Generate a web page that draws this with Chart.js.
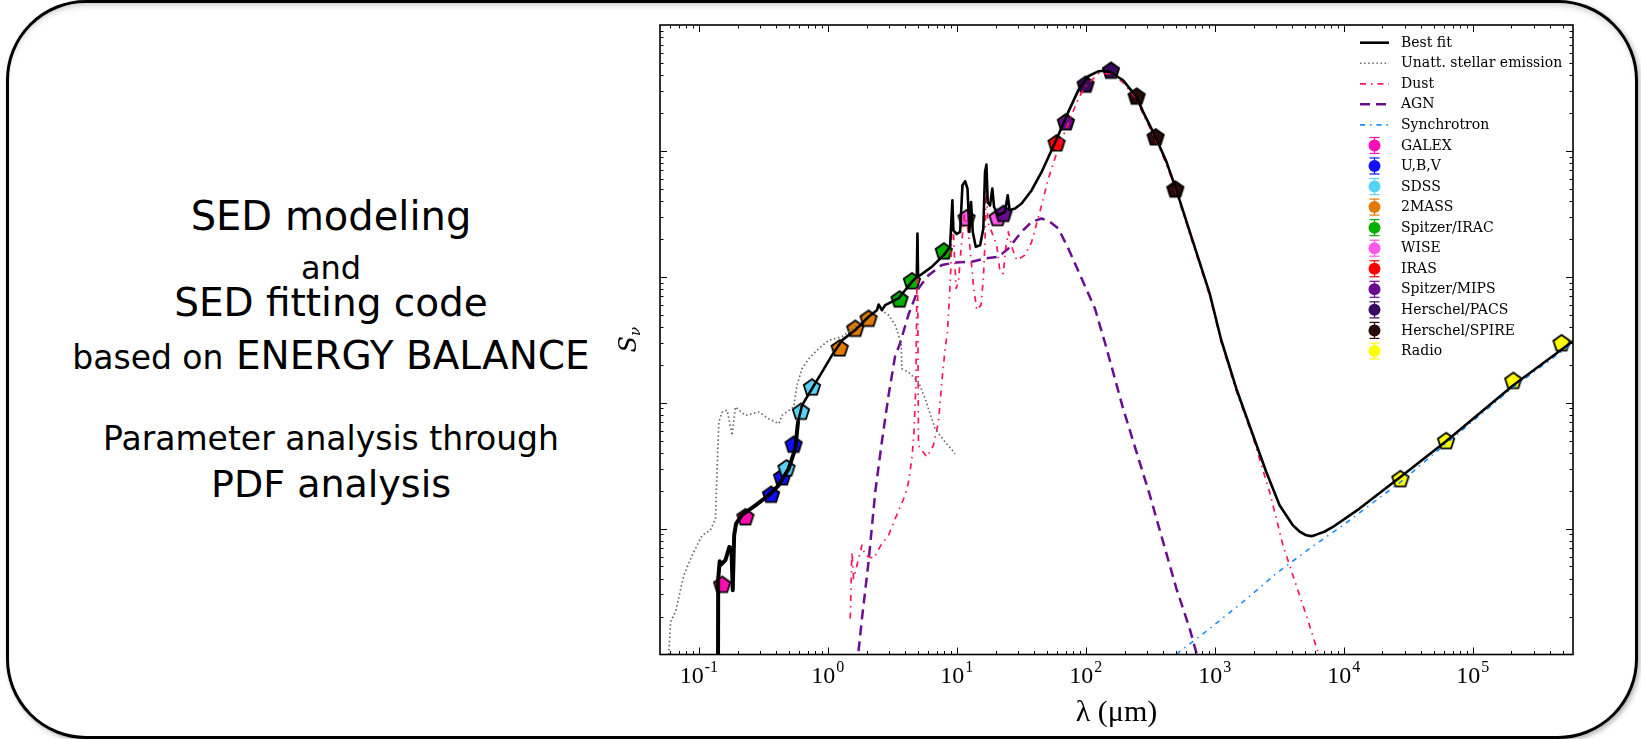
<!DOCTYPE html>
<html>
<head>
<meta charset="utf-8">
<script src="https://cdn.jsdelivr.net/npm/chart.js@4.4.1/dist/chart.umd.min.js"></script>
<style>
  html, body { margin: 0; padding: 0; background: #fff; }
  body { width: 1641px; height: 739px; position: relative; overflow: hidden; font-family: "DejaVu Sans", Verdana, sans-serif; }
  .frame { position: absolute; left: 6px; top: 0; width: 1632px; height: 739px; box-sizing: border-box;
           border: 3px solid #000; border-radius: 80px;
           box-shadow: inset 0 5px 6px -3px rgba(0,0,0,0.22), 2px 2px 5px rgba(0,0,0,0.3); }
  .blurb { position: absolute; left: 0; width: 662px; text-align: center; color: #000; white-space: nowrap; }
  #sed { position: absolute; left: 0; top: 0; }
</style>
</head>
<body>
<div class="frame"></div>

<div class="blurb" style="top:196px;font-size:40px;line-height:40px">SED modeling</div>
<div class="blurb" style="top:252px;font-size:32px;line-height:32px">and</div>
<div class="blurb" style="top:283px;font-size:39px;line-height:39px">SED fitting code</div>
<div class="blurb" style="top:336px;font-size:39px;line-height:39px"><span style="font-size:33px">based on</span> ENERGY BALANCE</div>
<div class="blurb" style="top:422px;font-size:33px;line-height:33px">Parameter analysis through</div>
<div class="blurb" style="top:465px;font-size:38px;line-height:38px">PDF analysis</div>

<canvas id="sed" width="1641" height="739"></canvas>

<script>
// wavelength in micron, flux density in arbitrary units (log axes)
const bestFitLam = [0.1406, 0.1413, 0.1452, 0.1472, 0.1607, 0.1726, 0.1791, 0.1832, 0.1879, 0.1945,
  0.2163, 0.2748, 0.3483, 0.4159, 0.4977, 0.5598, 0.5875, 0.6310, 0.7534, 0.9016,
  1.076, 1.288, 1.633, 2.070, 2.404, 2.477, 2.630, 2.786, 3.532, 4.487,
  4.898, 4.955, 5.012, 6.397, 7.925, 8.872, 9.247, 9.419, 10.0, 10.62,
  11.07, 11.61, 12.11, 12.53, 12.91, 13.30, 14.03, 15.17, 16.07, 16.56,
  16.98, 17.38, 18.11, 18.88, 19.45, 21.04, 23.66, 24.83, 25.70, 28.31,
  31.84, 38.11, 45.50, 54.33, 61.24, 73.28, 87.50, 104.5, 125.0, 139.0,
  153.8, 195.0, 219.8, 247.7, 278.6, 347.5, 422.7, 504.7, 679.2, 914.1,
  1122, 1472, 1982, 2512, 3184, 4036, 4571, 5129, 5623, 6124,
  7079, 8241, 13270, 27540, 62230, 206500, 576800, 631000];
const bestFitFlux = [0.316, 3.98, 5.50, 5.12, 5.61, 7.15, 6.93, 3.24, 8.85, 10.96,
  12.88, 15.31, 18.41, 22.08, 29.92, 43.15, 70.31, 95.28, 129.1, 175.0,
  237.7, 312.6, 377.6, 481.9, 543.3, 602.6, 543.3, 595.7, 673.0, 912.0,
  1000, 2208, 1000, 1199, 1486, 1730, 4055, 2333, 2188, 2275,
  5346, 5741, 5023, 2275, 3917, 2275, 1730, 1782, 2421, 6808,
  7780, 3917, 3681, 5023, 3597, 3083, 3281, 4446, 3381, 3483,
  3819, 4875, 6808, 10120, 13300, 20420, 30270, 39170, 42850, 43300,
  42360, 36390, 31260, 26850, 20420, 12910, 8185, 4875, 1897, 738.2,
  316.2, 129.1, 55.08, 28.18, 15.31, 10.62, 9.44, 8.851, 8.71, 8.954,
  9.44, 10.30, 14.42, 25.70, 49.32, 137.4, 299.2, 320.6];

const stellarLam = [0.0570, 0.05861, 0.06039, 0.06592, 0.07656, 0.08872, 0.1062, 0.1230, 0.1346, 0.1387,
  0.1429, 0.1517, 0.1660, 0.1811, 0.1923, 0.2296, 0.2917, 0.3483, 0.4159, 0.4416,
  0.5433, 0.5768, 0.6310, 0.7112, 0.8492, 1.014, 1.288, 1.633, 2.070, 2.477,
  2.958, 3.334, 3.707, 3.750, 4.227, 5.047, 5.689, 6.792, 8.128, 9.705];
const stellarFlux = [0.80, 1.050, 1.816, 2.183, 4.266, 6.138, 8.851, 9.705, 11.99, 29.92,
  70.31, 84.33, 87.10, 55.08, 92.47, 79.25, 84.33, 74.64, 68.08, 79.25,
  92.47, 137.4, 186.2, 223.4, 268.5, 312.6, 334.2, 400.9, 481.9, 561.0,
  496.6, 413.0, 295.8, 186.2, 175.0, 145.9, 107.6, 62.23, 48.75, 39.36];

const dustLam = [1.493, 1.538, 1.585, 1.683, 1.841, 1.950, 2.265, 2.624, 2.958, 3.334,
  3.639, 3.981, 4.227, 4.487, 4.645, 4.819, 4.955, 5.047, 5.358, 5.861,
  6.592, 7.211, 7.745, 8.128, 8.472, 8.730, 8.995, 9.247, 9.528, 9.886,
  10.30, 10.81, 11.46, 12.16, 12.68, 13.46, 14.29, 15.42, 16.07, 16.56,
  16.87, 17.38, 18.66, 20.42, 21.63, 22.96, 23.93, 25.12, 26.98, 29.17,
  33.81, 38.11, 45.50, 51.29, 57.68, 63.10, 73.28, 87.50, 98.63, 125.0,
  158.5, 195.0, 219.8, 247.7, 278.6, 347.5, 422.7, 504.7, 679.2, 914.1,
  1122, 1472, 1982, 2667, 3381, 4285, 5129, 6310, 7079];
const dustFlux = [1.932, 6.531, 4.009, 5.117, 7.379, 6.138, 5.781, 7.603, 8.851, 11.99,
  14.86, 18.41, 23.44, 35.97, 55.08, 137.4, 2208, 45.81, 41.88, 37.07,
  45.81, 70.31, 164.8, 268.5, 365.6, 633.9, 1164, 3936, 1679, 807.2,
  912.0, 1679, 3083, 2421, 1679, 859.0, 543.3, 595.7, 970.5, 1897,
  5675, 2735, 2275, 1782, 1096, 1062, 1679, 2275, 1679, 1355,
  1486, 1897, 3707, 6026, 8690, 11430, 16480, 26000, 32210, 41000,
  41000, 34930, 30010, 25780, 19600, 12390, 7858, 4680, 1821, 708.7,
  303.6, 123.9, 52.88, 19.54, 7.379, 3.548, 2.051, 1.050, 0.708];

const agnLam = [1.679, 1.841, 2.070, 2.333, 2.624, 2.958, 3.334, 3.598, 4.227, 5.047,
  6.039, 7.656, 9.705, 13.06, 16.56, 21.04, 25.12, 31.84, 38.11, 45.50,
  52.84, 61.24, 73.28, 92.90, 117.8, 140.6, 163.3, 195.0, 247.7, 314.1,
  398.1, 504.7, 639.7, 729.5, 776.2];
const agnFlux = [0.794, 1.932, 5.433, 19.54, 48.75, 114.3, 237.7, 287.1, 501.2, 807.2,
  1030, 1239, 1300, 1315, 1400, 1442, 1679, 2275, 2735, 2904,
  2735, 2421, 1679, 970.5, 561.0, 302.0, 173.8, 89.54, 40.55, 18.41,
  7.834, 3.342, 1.607, 0.989, 0.794];

const synchLam = [400, 501.2, 914.1, 1656, 3000, 5433, 9863, 27540, 62230, 206500, 576800, 631000];
const synchFlux = [0.835, 1.0, 1.607, 2.618, 4.395, 6.934, 10.62, 23.44, 47.32, 133.0, 288.4, 309.0];

// photometry per instrument
const bandNames = ['GALEX', 'U,B,V', 'SDSS', '2MASS', 'Spitzer/IRAC', 'WISE', 'IRAS',
  'Spitzer/MIPS', 'Herschel/PACS', 'Herschel/SPIRE', 'Radio'];
const galexLam = [0.1517, 0.2296], galexFlux = [3.60, 12.4];
const ubvLam = [0.363, 0.442, 0.543], ubvFlux = [18.7, 25.7, 46.7];
const sdssLam = [0.478, 0.619, 0.753], sdssFlux = [30.3, 85.3, 133];
const tmassLam = [1.236, 1.633, 2.07], tmassFlux = [272, 389, 467];
const iracLam = [3.60, 4.49, 7.93], iracFlux = [665, 929, 1600];
const wiseLam = [11.9, 20.7], wiseFlux = [2940, 2950];
const irasLam = [59.4], irasFlux = [11560];
const mipsLam = [23.0, 70.1], mipsFlux = [3180, 17000];
const pacsLam = [99.8, 157], pacsFlux = [33800, 43650];
const spireLam = [248, 348, 495], spireFlux = [27200, 12900, 4970];
const radioLam = [27540, 62230, 206500, 488700], radioFlux = [24.9, 49.9, 150, 299];

const bandLam = [galexLam, ubvLam, sdssLam, tmassLam, iracLam, wiseLam, irasLam, mipsLam, pacsLam, spireLam, radioLam];
const bandFlux = [galexFlux, ubvFlux, sdssFlux, tmassFlux, iracFlux, wiseFlux, irasFlux, mipsFlux, pacsFlux, spireFlux, radioFlux];
const bandColors = ['#ff0db4', '#1010ff', '#58d2f4', '#e07a00', '#00b000', '#ff58ea', '#ff0000',
  '#6a0a8c', '#3a0a5e', '#2c0a0a', '#ffff00'];

const X_MIN = 0.05, X_MAX = 6e5, Y_MIN = 1, Y_MAX = 1e5;

function pts(lam, flux) { return lam.map((l, i) => ({x: l, y: flux[i]})); }

// pentagon marker with black edge and the round errorbar dot inside
function pentagon(color) {
  const c = document.createElement('canvas');
  c.width = 24; c.height = 24;
  const g = c.getContext('2d');
  g.beginPath();
  for (let i = 0; i < 5; i++) {
    const a = -Math.PI / 2 + i * 2 * Math.PI / 5;
    const px = 12 + 8.6 * Math.cos(a), py = 12.6 + 8.6 * Math.sin(a);
    if (i) g.lineTo(px, py); else g.moveTo(px, py);
  }
  g.closePath();
  g.fillStyle = color; g.fill();
  g.lineWidth = 1.8; g.strokeStyle = '#000'; g.stroke();
  g.beginPath();
  g.arc(12, 12.4, 5.6, 0, 2 * Math.PI);
  g.fillStyle = color; g.fill();
  return c;
}

const curves = [
  {label: 'Best fit', lam: bestFitLam, flux: bestFitFlux, color: '#000000', width: 2.6, dash: []},
  {label: 'Unatt. stellar emission', lam: stellarLam, flux: stellarFlux, color: '#666666', width: 1.7, dash: [1.5, 2.6]},
  {label: 'Dust', lam: dustLam, flux: dustFlux, color: '#ff1654', width: 1.7, dash: [6, 5, 1.5, 5]},
  {label: 'AGN', lam: agnLam, flux: agnFlux, color: '#6a0d91', width: 2.5, dash: [10, 6]},
  {label: 'Synchrotron', lam: synchLam, flux: synchFlux, color: '#1e8cff', width: 1.6, dash: [5, 5, 1.5, 5]}
];

const datasets = curves.map((c, i) => ({
  label: c.label,
  data: pts(c.lam, c.flux),
  showLine: true,
  borderColor: c.color,
  borderWidth: c.width,
  borderDash: c.dash,
  borderJoinStyle: 'round',
  borderCapStyle: c.dash.length ? 'butt' : 'round',
  pointRadius: 0,
  tension: 0,
  order: i
}));
// the noisy UV/optical stretch of the fit reads as a heavier stroke
datasets[0].segment = {borderWidth: s => (s.p1.parsed.x < 0.62 ? 4 : 2.6)};

bandNames.forEach((name, i) => {
  datasets.push({
    label: name,
    data: pts(bandLam[i], bandFlux[i]),
    showLine: false,
    backgroundColor: bandColors[i],
    pointStyle: pentagon(bandColors[i]),
    pointRadius: 9,
    order: 30 - i
  });
});

function seg(ctx, x1, y1, x2, y2) {
  ctx.beginPath(); ctx.moveTo(x1, y1); ctx.lineTo(x2, y2); ctx.stroke();
}

// axes box, inward log ticks, 10^n labels, S_nu title and the legend
const sedDecor = {
  id: 'sedDecor',
  afterDraw(chart) {
    const {ctx, chartArea: a, scales: {x, y}} = chart;
    ctx.save();
    ctx.strokeStyle = '#000';
    ctx.lineWidth = 1.6;
    ctx.strokeRect(a.left, a.top, a.right - a.left, a.bottom - a.top);

    ctx.lineWidth = 1;
    for (let e = -2; e <= 6; e++) {
      for (let k = 1; k < 10; k++) {
        const v = k * Math.pow(10, e);
        if (v > X_MIN && v < X_MAX) {
          const px = Math.round(x.getPixelForValue(v)) + 0.5, len = k === 1 ? 7 : 3.5;
          seg(ctx, px, a.bottom, px, a.bottom - len);
          seg(ctx, px, a.top, px, a.top + len);
        }
        if (v > Y_MIN && v < Y_MAX) {
          const py = Math.round(y.getPixelForValue(v)) + 0.5, len = k === 1 ? 7 : 3.5;
          seg(ctx, a.left, py, a.left + len, py);
          seg(ctx, a.right, py, a.right - len, py);
        }
      }
    }

    ctx.fillStyle = '#000';
    ctx.textBaseline = 'alphabetic';
    ctx.textAlign = 'left';
    for (let e = -1; e <= 5; e++) {
      const px = x.getPixelForValue(Math.pow(10, e));
      const exp = String(e);
      ctx.font = '24px "Liberation Serif", serif';
      const wb = ctx.measureText('10').width;
      ctx.font = '16px "Liberation Serif", serif';
      const we = ctx.measureText(exp).width;
      const x0 = px - (wb + we + 1) / 2;
      ctx.font = '24px "Liberation Serif", serif';
      ctx.fillText('10', x0, a.bottom + 28);
      ctx.font = '16px "Liberation Serif", serif';
      ctx.fillText(exp, x0 + wb + 1, a.bottom + 17);
    }

    // rotated S_nu label
    ctx.save();
    ctx.translate(636, (a.top + a.bottom) / 2);
    ctx.rotate(-Math.PI / 2);
    ctx.font = 'italic 24px "DejaVu Serif", serif';
    const ws = ctx.measureText('S').width;
    ctx.font = 'italic 15px "DejaVu Serif", serif';
    const wn = ctx.measureText('ν').width;
    const s0 = -(ws + wn) / 2;
    ctx.font = 'italic 24px "DejaVu Serif", serif';
    ctx.fillText('S', s0, 0);
    ctx.font = 'italic 15px "DejaVu Serif", serif';
    ctx.fillText('ν', s0 + ws, 4);
    ctx.restore();

    // legend
    const lx = 1360, ly = 42.7, dy = 20.55;
    chart.data.datasets.forEach((ds, i) => {
      const cy = ly + i * dy;
      if (ds.showLine) {
        ctx.strokeStyle = ds.borderColor;
        ctx.lineWidth = ds.borderWidth;
        ctx.setLineDash(ds.borderDash);
        seg(ctx, lx, cy, lx + 29, cy);
        ctx.setLineDash([]);
      } else {
        const cx = lx + 14.5;
        ctx.strokeStyle = ds.backgroundColor;
        ctx.lineWidth = 1.2;
        seg(ctx, cx, cy - 8, cx, cy + 8);
        seg(ctx, cx - 5, cy - 8, cx + 5, cy - 8);
        seg(ctx, cx - 5, cy + 8, cx + 5, cy + 8);
        ctx.beginPath();
        ctx.arc(cx, cy, 6, 0, 2 * Math.PI);
        ctx.fillStyle = ds.backgroundColor;
        ctx.fill();
      }
      ctx.fillStyle = '#000';
      ctx.font = '14px "DejaVu Serif", serif';
      ctx.textBaseline = 'middle';
      ctx.fillText(ds.label, 1401, cy + 0.5);
      ctx.textBaseline = 'alphabetic';
    });
    ctx.restore();
  }
};

new Chart(document.getElementById('sed'), {
  type: 'scatter',
  data: {datasets},
  options: {
    responsive: false,
    animation: false,
    events: [],
    layout: {padding: {top: 25, right: 68, bottom: 0, left: 0}},
    plugins: {legend: {display: false}, tooltip: {enabled: false}},
    scales: {
      x: {
        type: 'logarithmic', min: X_MIN, max: X_MAX,
        grid: {display: false}, border: {display: false}, ticks: {display: false},
        title: {display: true, text: 'λ (μm)', color: '#000',
                font: {family: '"Liberation Serif", serif', size: 30, lineHeight: 1},
                padding: {top: 0, bottom: 11}},
        afterFit(s) { s.height = 84.5; }
      },
      y: {
        type: 'logarithmic', min: Y_MIN, max: Y_MAX,
        grid: {display: false}, border: {display: false}, ticks: {display: false},
        afterFit(s) { s.width = 660; }
      }
    }
  },
  plugins: [sedDecor]
});
</script>
</body>
</html>
